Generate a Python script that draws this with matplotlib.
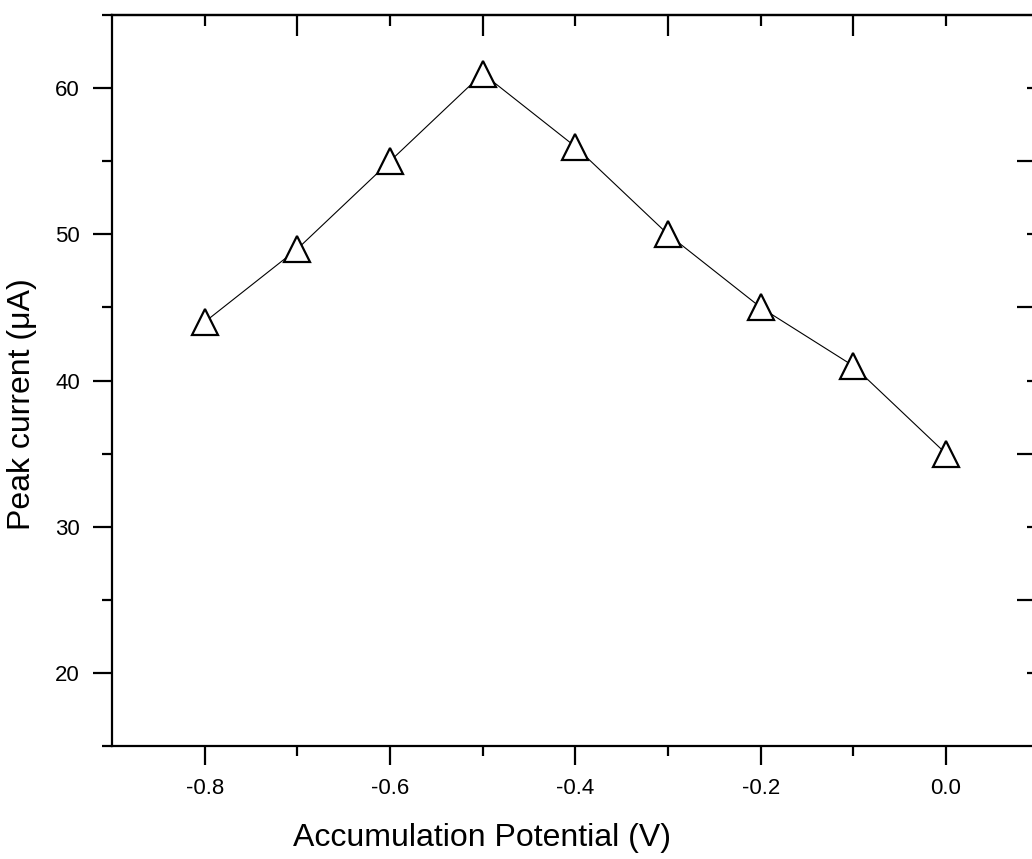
import matplotlib
matplotlib.use('Agg')
import matplotlib.pyplot as plt
from matplotlib.ticker import FixedLocator

plt.rcParams['font.family'] = ['Liberation Sans', 'DejaVu Sans']

potential = [-0.8, -0.7, -0.6, -0.5, -0.4, -0.3, -0.2, -0.1, 0.0]
current = [44, 49, 55, 61, 56, 50, 45, 41, 35]

x_major = [-0.8, -0.6, -0.4, -0.2, 0.0]
x_minor = [-0.7, -0.5, -0.3, -0.1]
y_major = [20, 30, 40, 50, 60]
y_minor = [15, 25, 35, 45, 55, 65]

fig = plt.figure(figsize=(10.32, 8.59), dpi=100)
ax = fig.add_axes([0.1085, 0.1315, 0.898, 0.851])

ax.plot(potential, current, color='black', lw=0.8, marker='^', ms=19,
        mfc='white', mec='black', mew=1.6)

ax.set_xlim(-0.9, 0.1)
ax.set_ylim(15, 65)
ax.xaxis.set_major_locator(FixedLocator(x_major))
ax.xaxis.set_minor_locator(FixedLocator(x_minor))
ax.yaxis.set_major_locator(FixedLocator(y_major))
ax.yaxis.set_minor_locator(FixedLocator(y_minor))
ax.set_xticklabels(['-0.8', '-0.6', '-0.4', '-0.2', '0.0'])

for s in ax.spines.values():
    s.set_linewidth(1.6)

ax.tick_params(which='both', direction='out', top=False, right=False, labelsize=16, width=1.6, pad=9)
ax.tick_params(which='major', length=14)
ax.tick_params(which='minor', length=7)

# inward ticks on top and right (Origin style, shifted pattern)
axt = ax.secondary_xaxis('top')
axt.xaxis.set_major_locator(FixedLocator(x_minor))
axt.xaxis.set_minor_locator(FixedLocator(x_major))
axt.tick_params(which='both', direction='in', labeltop=False, width=1.6)
axt.tick_params(which='major', length=15)
axt.tick_params(which='minor', length=8)
axt.spines['top'].set_linewidth(1.6)
axr = ax.secondary_yaxis('right')
axr.yaxis.set_major_locator(FixedLocator([25, 35, 45, 55]))
axr.yaxis.set_minor_locator(FixedLocator(y_major))
axr.tick_params(which='both', direction='in', labelright=False, width=1.6)
axr.tick_params(which='major', length=16)
axr.tick_params(which='minor', length=9)

ax.set_xlabel('Accumulation Potential (V)', fontsize=23)
ax.set_ylabel('Peak current (\u03bcA)', fontsize=23)
ax.xaxis.set_label_coords(0.399, -0.105)
ax.yaxis.set_label_coords(-0.081, 0.468)

fig.savefig('out.png', dpi=100)
